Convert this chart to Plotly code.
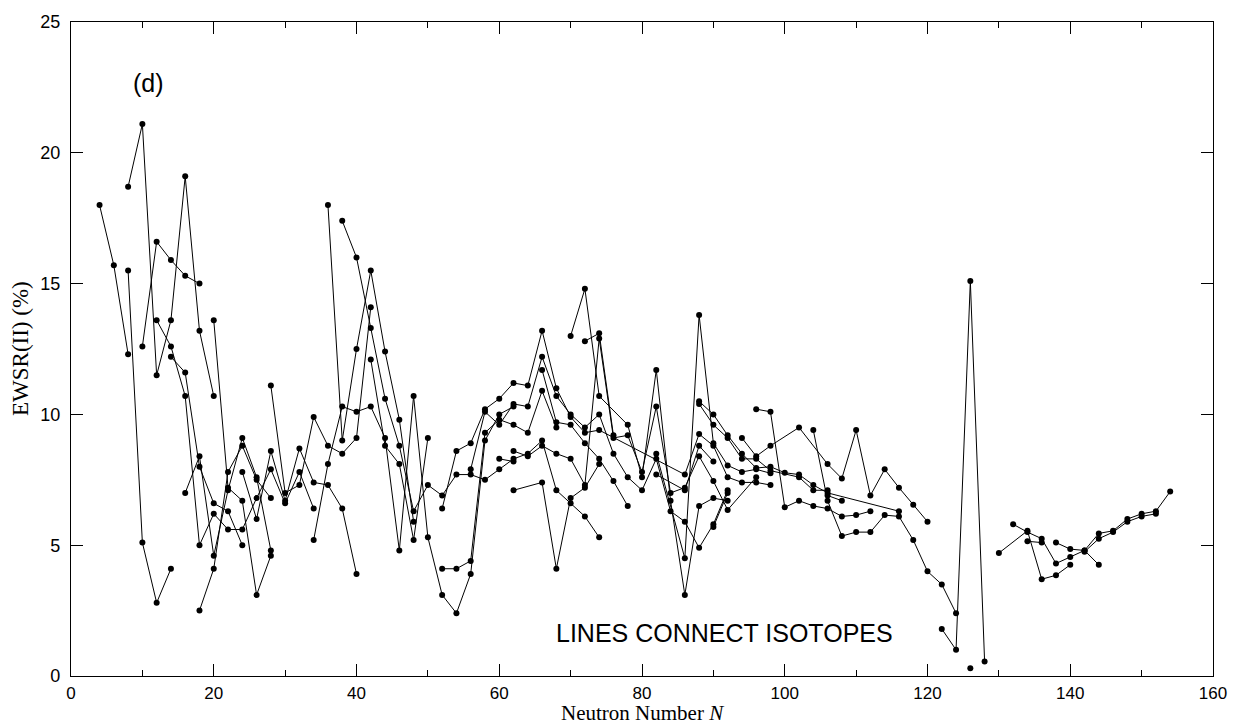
import plotly.graph_objects as go

# Isotope chains: (neutron numbers N, EWSR(II) in %)
CHAIN_A = ([4, 6, 8], [18.0, 15.7, 12.3])
CHAIN_B = ([8, 10, 12, 14], [15.5, 5.1, 2.8, 4.1])
CHAIN_C = ([8, 10, 12, 14, 16, 18, 20], [18.7, 21.1, 11.5, 13.6, 19.1, 13.2, 10.7])
CHAIN_D = ([10, 12, 14, 16, 18], [12.6, 16.6, 15.9, 15.3, 15.0])
CHAIN_E = ([12, 14, 16, 18, 20, 22, 24, 26, 28, 30, 32, 34],
           [13.6, 12.6, 10.7, 5.0, 6.2, 5.6, 5.6, 6.8, 7.9, 6.6, 7.8, 6.4])
CHAIN_F = ([14, 16, 18, 20, 22, 24], [12.2, 11.6, 8.0, 6.6, 6.3, 5.0])
CHAIN_G = ([16, 18, 20, 22, 24, 26, 28], [7.0, 8.4, 4.6, 7.1, 9.1, 7.6, 4.8])
CHAIN_H = ([18, 20, 22, 24, 26, 28], [2.5, 4.1, 7.8, 8.8, 7.5, 6.8])
CHAIN_I = ([20, 22, 24, 26, 28], [13.6, 7.2, 6.7, 3.1, 4.6])
CHAIN_K = ([24, 26, 28, 30, 32, 34, 36, 38, 40],
           [7.8, 6.0, 8.6, 6.7, 8.7, 7.4, 7.3, 6.4, 3.9])
CHAIN_M = ([28, 30, 32, 34, 36, 38, 40, 42], [11.1, 7.0, 7.3, 9.9, 8.8, 8.5, 9.1, 14.1])
CHAIN_N = ([34, 36, 38, 40, 42, 44, 46, 48, 50, 52, 54, 56, 58, 60, 62],
           [5.2, 8.1, 10.3, 10.1, 10.3, 9.1, 4.8, 10.7, 5.3, 3.1, 2.4, 3.9, 9.0, 10.0, 10.3])
CHAIN_O = ([36, 38, 40, 42, 44, 46, 48], [18.0, 9.0, 12.5, 15.5, 12.4, 9.8, 5.9])
CHAIN_P = ([38, 40, 42, 44, 46, 48, 50, 52, 54, 56, 58, 60, 62, 64, 66, 68, 70, 72, 74],
           [17.4, 16.0, 13.3, 10.6, 8.8, 6.3, 7.3, 6.9, 7.7, 7.7, 7.5, 7.9, 8.3, 8.5, 9.0,
            7.1, 6.6, 6.1, 5.3])
CHAIN_Q = ([42, 44, 46, 48, 50], [12.1, 8.8, 8.1, 5.2, 9.1])
CHAIN_S3 = ([52, 54, 56, 58, 60, 62, 64, 66, 68, 70, 72, 74, 86, 88, 90, 92, 94, 96, 98],
            [6.4, 8.6, 8.9, 10.2, 10.6, 11.2, 11.1, 13.2, 11.0, 9.9, 9.3, 9.4, 7.7, 9.25,
             8.8, 7.6, 7.4, 7.4, 7.3])
CHAIN_S4 = ([52, 54, 56, 58, 60, 62, 64, 66, 68], [4.1, 4.1, 4.4, 9.3, 9.8, 9.6, 9.3, 10.9, 9.5])
CHAIN_S5 = ([56, 58, 60, 62, 64, 66, 68, 70, 72, 74, 76, 78, 80, 82, 84, 86, 88, 90, 92],
            [7.9, 10.1, 9.6, 10.4, 10.3, 12.2, 10.7, 10.0, 9.5, 10.0, 8.5, 7.6, 7.1, 8.3,
             6.3, 5.9, 4.9, 5.8, 7.1])
CHAIN_S6 = ([60, 62], [8.3, 8.2])
CHAIN_X1 = ([62, 64, 66, 68, 70, 72, 74, 76, 78, 80, 82, 84, 86, 88, 90, 92, 96],
            [8.6, 8.4, 8.8, 8.5, 8.3, 7.3, 12.9, 9.1, 9.2, 7.8, 10.3, 7.0, 7.2, 8.4, 7.45,
             6.35, 7.6])
CHAIN_X2 = ([62, 66, 68, 70, 72, 74], [7.1, 7.4, 4.1, 6.8, 7.2, 8.1])
CHAIN_Y1 = ([66, 68, 70, 72, 74, 76, 78], [11.7, 9.7, 9.6, 8.9, 8.3, 7.45, 6.5])
CHAIN_Y2 = ([70, 72, 74, 78, 80, 82, 84, 86, 88, 90, 92],
            [13.0, 14.8, 10.7, 9.6, 7.6, 11.7, 6.7, 3.1, 6.5, 6.8, 6.7])
CHAIN_Y3 = ([72, 74, 76], [12.8, 13.1, 9.2])
CHAIN_Z1 = ([82, 86, 88, 90, 92, 94, 96, 98], [8.5, 4.5, 13.8, 8.9, 8.05, 7.8, 7.9, 7.75])
CHAIN_Z2 = ([82, 86, 88, 90], [7.7, 7.1, 8.8, 8.2])
CHAIN_V3 = ([90, 92], [5.7, 7.0])
CHAIN_T1 = ([88, 90, 92, 94, 96, 98, 100, 102, 104, 106, 116],
            [10.5, 10.0, 9.2, 8.5, 7.95, 8.0, 7.77, 7.7, 7.3, 7.0, 6.3])
CHAIN_T2 = ([88, 90, 92, 94, 96, 98, 102, 104, 106],
            [10.4, 9.6, 9.1, 8.3, 8.3, 7.85, 7.6, 7.1, 7.1])
CHAIN_U = ([94, 96, 98, 102, 106, 108, 110, 112, 114, 116, 118, 120],
           [9.1, 8.4, 8.8, 9.5, 8.1, 7.55, 9.4, 6.9, 7.9, 7.2, 6.55, 5.9])
CHAIN_V1 = ([96, 98, 100, 102, 104, 106, 108, 110, 112],
            [10.2, 10.1, 6.45, 6.7, 6.5, 6.4, 6.1, 6.15, 6.3])
CHAIN_W3 = ([106, 108], [6.9, 6.7])
CHAIN_L1 = ([104, 106, 108, 110, 112, 114, 116, 118, 120, 122, 124],
            [9.4, 6.7, 5.35, 5.5, 5.5, 6.15, 6.1, 5.2, 4.0, 3.5, 2.4])
CHAIN_R0 = ([122, 124, 126, 128], [1.8, 1.0, 15.1, 0.55])
CHAIN_R1 = ([130, 134, 136, 138, 140], [4.7, 5.55, 3.7, 3.85, 4.25])
CHAIN_R2 = ([132, 134, 136, 138, 140, 142, 144, 146, 148, 150, 152, 154],
            [5.8, 5.5, 5.25, 4.3, 4.55, 4.8, 5.45, 5.55, 6.0, 6.2, 6.3, 7.05])
CHAIN_R3 = ([134, 136], [5.15, 5.1])
CHAIN_R4 = ([138, 140, 142, 144], [5.1, 4.85, 4.8, 4.25])
CHAIN_R5 = ([142, 144, 146, 148, 150, 152], [4.75, 5.25, 5.5, 5.9, 6.1, 6.2])
SINGLE_POINTS = ([126], [0.3])

CHAINS = [CHAIN_A, CHAIN_B, CHAIN_C, CHAIN_D, CHAIN_E, CHAIN_F, CHAIN_G, CHAIN_H,
          CHAIN_I, CHAIN_K, CHAIN_M, CHAIN_N, CHAIN_O, CHAIN_P, CHAIN_Q, CHAIN_S3,
          CHAIN_S4, CHAIN_S5, CHAIN_S6, CHAIN_X1, CHAIN_X2, CHAIN_Y1, CHAIN_Y2,
          CHAIN_Y3, CHAIN_Z1, CHAIN_Z2, CHAIN_V3, CHAIN_T1, CHAIN_T2, CHAIN_U,
          CHAIN_V1, CHAIN_W3, CHAIN_L1, CHAIN_R0, CHAIN_R1, CHAIN_R2, CHAIN_R3,
          CHAIN_R4, CHAIN_R5]

X_TICKS = [0, 20, 40, 60, 80, 100, 120, 140, 160]
Y_TICKS = [0, 5, 10, 15, 20, 25]

fig = go.Figure()
for n_vals, ewsr in CHAINS:
    fig.add_trace(go.Scatter(
        x=n_vals, y=ewsr, mode="lines+markers",
        line=dict(color="black", width=1),
        marker=dict(color="black", size=6),
        showlegend=False, hoverinfo="skip"))
fig.add_trace(go.Scatter(
    x=SINGLE_POINTS[0], y=SINGLE_POINTS[1], mode="markers",
    marker=dict(color="black", size=6), showlegend=False, hoverinfo="skip"))

sans = "Liberation Sans, Arial, sans-serif"
serif = "Liberation Serif, Times New Roman, serif"

fig.update_xaxes(
    range=[0, 160], tickvals=X_TICKS, ticktext=[str(t) for t in X_TICKS],
    ticks="inside", ticklen=12, tickwidth=1, tickcolor="black",
    minor=dict(dtick=10, ticks="inside", ticklen=6, tickcolor="black"),
    showline=True, linecolor="black", linewidth=1.2, mirror="allticks",
    showgrid=False, zeroline=False, ticklabelstandoff=1,
    tickfont=dict(family=sans, size=17, color="black"))
fig.update_yaxes(
    range=[0, 25], tickvals=Y_TICKS, ticktext=[str(t) for t in Y_TICKS],
    ticks="inside", ticklen=12, tickwidth=1, tickcolor="black",
    showline=True, linecolor="black", linewidth=1.2, mirror="allticks",
    showgrid=False, zeroline=False, ticklabelstandoff=6,
    tickfont=dict(family=sans, size=18, color="black"))

fig.add_annotation(text="Neutron Number <i>N</i>", xref="paper", yref="paper",
                   x=0.5, y=0, yshift=-50, xanchor="center", yanchor="bottom",
                   showarrow=False, borderpad=0,
                   font=dict(family=serif, size=21, color="black"))
fig.add_annotation(text="EWSR(II) (%)", xref="paper", yref="paper",
                   x=0, y=0.5, xshift=-51, xanchor="center", yanchor="middle",
                   textangle=-90, showarrow=False,
                   font=dict(family=serif, size=23, color="black"))
fig.add_annotation(text="(d)", x=10.8, y=22.66, showarrow=False,
                   xanchor="center", yanchor="middle",
                   font=dict(family=sans, size=25, color="black"))
fig.add_annotation(text="LINES CONNECT ISOTOPES", x=91.6, y=1.63, showarrow=False,
                   xanchor="center", yanchor="middle",
                   font=dict(family=sans, size=25, color="black"))

fig.update_layout(
    width=1239, height=726,
    margin=dict(l=71, r=19, t=18, b=50),
    paper_bgcolor="white", plot_bgcolor="white",
)

fig.write_html("out.html")
